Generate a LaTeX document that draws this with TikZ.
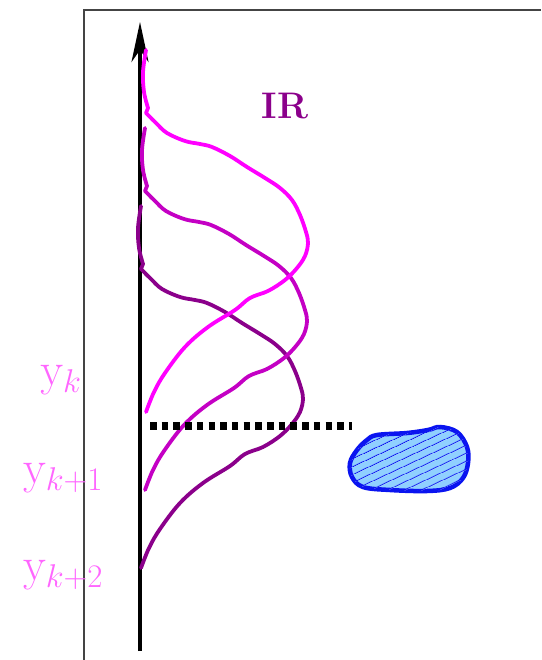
\RequirePackage{fix-cm}
\documentclass[tikz,border=0pt]{standalone}
\usetikzlibrary{arrows.meta,patterns.meta}
\definecolor{frameink}{HTML}{444444}
\definecolor{irone}{HTML}{FF00FF}
\definecolor{irtwo}{HTML}{C400C4}
\definecolor{irthree}{HTML}{8B008B}
\definecolor{lbl}{HTML}{FF66FF}
\definecolor{blobfill}{HTML}{90D0FF}
\definecolor{blobline}{HTML}{0A14F0}

% one copy of the wave, drawn three times with a shift
\newcommand{\wavepath}{%
  plot[smooth, tension=.6] coordinates {(146,50) (143,72) (144,92) (148,108)}
  -- plot[smooth, tension=.6] coordinates {(146,113) (156,123) (167,133) (185,141)
     (200,144) (212,147) (230,156) (247,167) (265,178) (280,188) (292,200)
     (300,215) (306,232) (308,243) (305,256) (297,268) (285,280) (268,291)
     (250,298) (235,310) (208,327) (185,347) (165,373) (154,392) (146,412)}}

\begin{document}
\begin{tikzpicture}[x=1pt, y=-1pt,
    wave/.style={line width=3.8pt, line cap=round, line join=round},
    ylab/.style={text=lbl, font=\fontsize{47}{52}\selectfont},
    axis/.style={line width=3.4pt, -{Stealth[length=40pt, width=17pt, inset=12pt]}}]
  \useasboundingbox (0,0) rectangle (541,660);
  % frame
  \coordinate (fbl) at (84,660);
  \coordinate (ftl) at (84,10);
  \coordinate (ftr) at (541,10);
  \draw[frameink, line width=1.2pt] (fbl) -- (ftl) -- (ftr);
  % axis
  \coordinate (axbot) at (140,651);
  \coordinate (axtop) at (140,22);
  \draw[axis] (axbot) -- (axtop);
  % waves
  \draw[wave, irthree, shift={(-5,156)}] \wavepath;
  \draw[wave, irtwo, shift={(-1,78)}] \wavepath;
  \draw[wave, irone] \wavepath;
  % cut
  \coordinate (cutl) at (150,426);
  \coordinate (cutr) at (352,426);
  \draw[line width=7.5pt, dash pattern=on 6.5pt off 5.2pt] (cutl) -- (cutr);
  % blob
  \draw[blobline, line width=4.5pt, fill=blobfill,
        postaction={pattern={Lines[angle=25, distance=6.5pt, line width=1pt]},
                    pattern color=blobline}]
    plot[smooth cycle, tension=.6] coordinates {(377,435) (407,433) (428,430)
      (440,427) (457,432) (467,447) (468,463) (463,478) (450,488) (427,491)
      (390,490) (363,487) (352,477) (350,463) (357,450) (367,440)};
  % labels
  \node[text=irthree, font=\fontsize{37}{40}\selectfont\bfseries] (ir) at (285,106) {IR};
  \node[ylab] (yk) at (61,380) {$\mathrm{y}_k$};
  \node[ylab] (yk1) at (63,478) {$\mathrm{y}_{k+1}$};
  \node[ylab] (yk2) at (63,575) {$\mathrm{y}_{k+2}$};
\end{tikzpicture}
\end{document}
